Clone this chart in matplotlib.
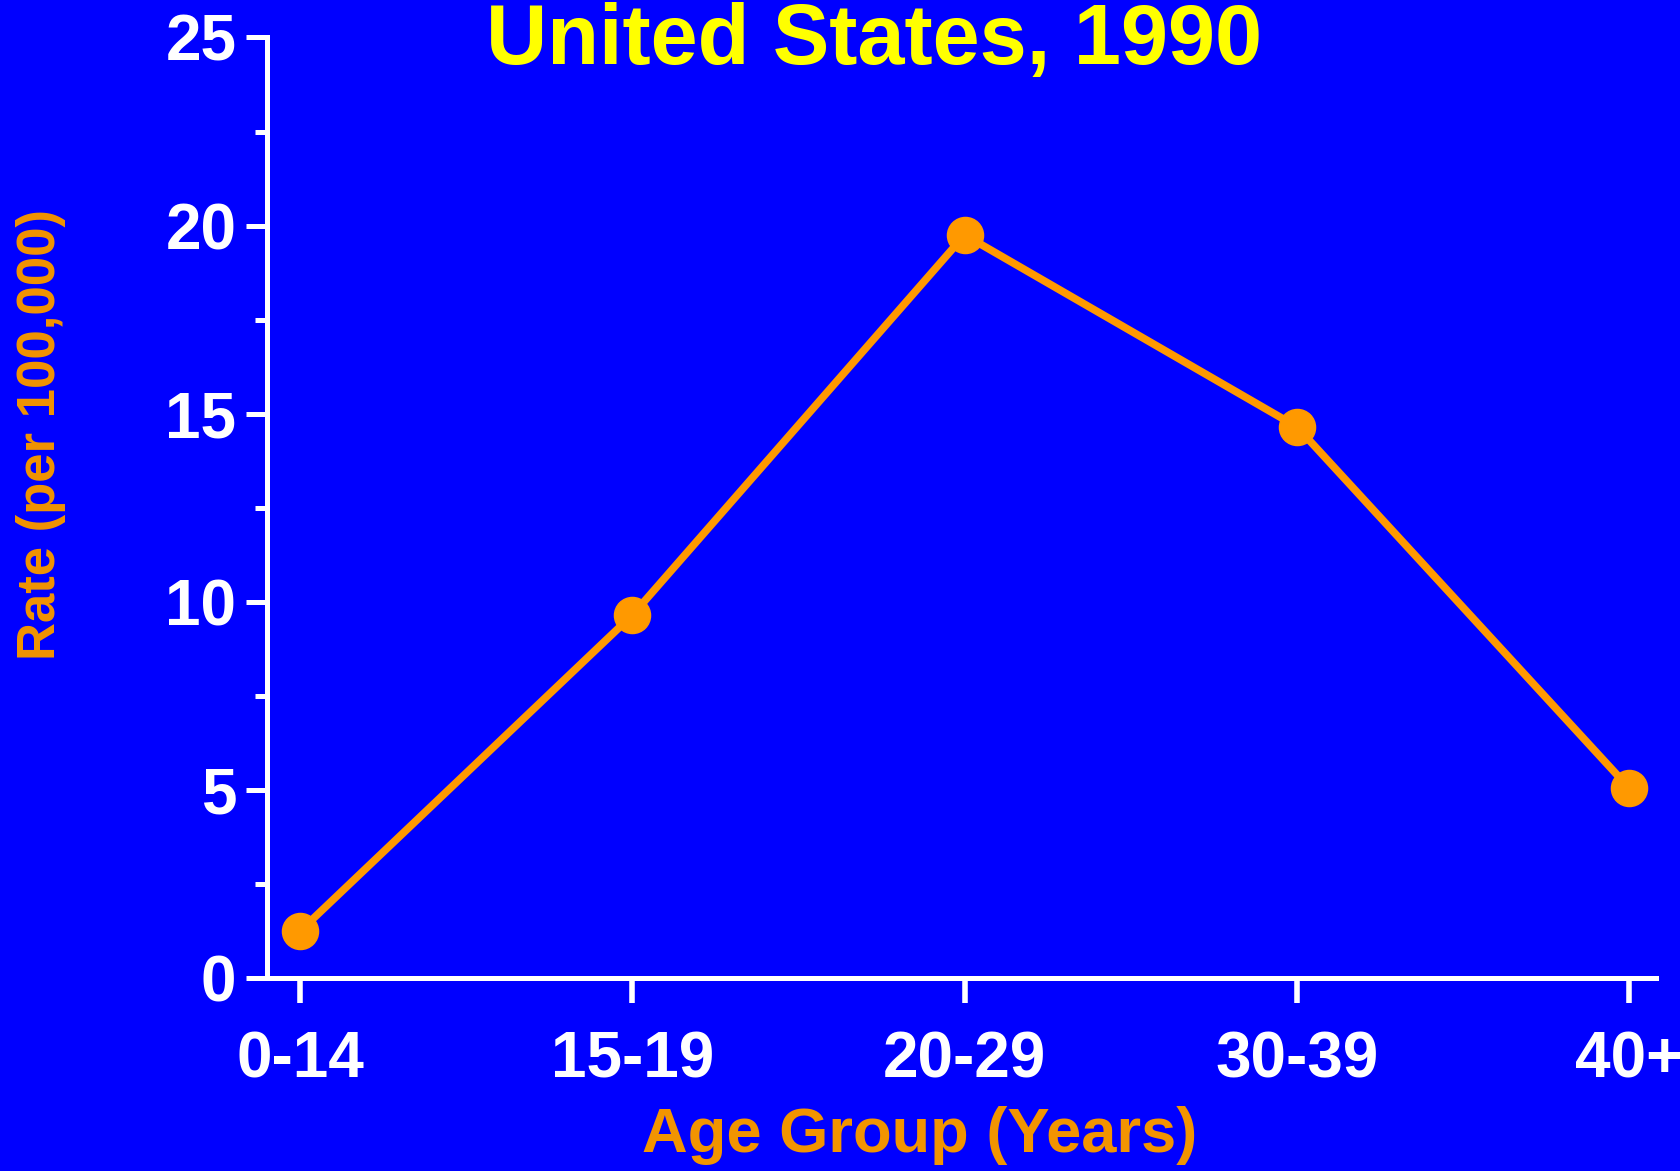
import matplotlib.pyplot as plt
import numpy as np

# age-specific rate per 100,000
age_groups = ["0-14", "15-19", "20-29", "30-39", "40+"]
rates = [1.25, 9.65, 19.75, 14.65, 5.05]

bg = "#0000FF"
orange = "#FF9900"
label_orange = "#F29400"

plt.rcParams["font.family"] = ["Liberation Sans", "DejaVu Sans"]
plt.rcParams["font.weight"] = "bold"

fig = plt.figure(figsize=(16.81, 11.71), dpi=100, facecolor=bg)
ax = fig.add_axes([0.1588, 0.1648, 0.8262, 0.8032], facecolor=bg)

x = np.arange(len(age_groups))
ax.plot(x, rates, color=orange, linewidth=5.5, marker="o", markersize=26,
        markerfacecolor=orange, markeredgecolor=orange, clip_on=False, zorder=3)

ax.set_xlim(-0.1, 4.08)
ax.set_ylim(0, 25)
ax.set_xticks(x)
ax.set_xticklabels(age_groups)
ax.set_yticks([0, 5, 10, 15, 20, 25])
ax.set_yticks(np.arange(2.5, 25, 5), minor=True)

for side in ["top", "right"]:
    ax.spines[side].set_visible(False)
for side in ["left", "bottom"]:
    ax.spines[side].set_color("white")
    ax.spines[side].set_linewidth(3.6)

ax.tick_params(axis="x", which="major", direction="out", length=18, width=4,
               colors="white", labelsize=46, pad=20)
ax.tick_params(axis="y", which="major", direction="out", length=15, width=3.6,
               colors="white", labelsize=46, pad=7)
ax.tick_params(axis="y", which="minor", direction="out", length=9, width=3.6,
               colors="white")
for lbl in ax.get_xticklabels() + ax.get_yticklabels():
    lbl.set_fontweight("bold")

fig.text(0.52, 0.998, "United States, 1990", color="#FFFF00", fontsize=61,
         fontweight="bold", ha="center", va="top")
fig.text(0.547, 0.03, "Age Group (Years)", color=label_orange, fontsize=45.5,
         fontweight="bold", ha="center", va="center")
fig.text(0.0245, 0.629, "Rate (per 100,000)", color=label_orange, fontsize=38,
         fontweight="bold", ha="center", va="center", rotation=90)

fig.savefig("out.png", dpi=100, facecolor=bg)
